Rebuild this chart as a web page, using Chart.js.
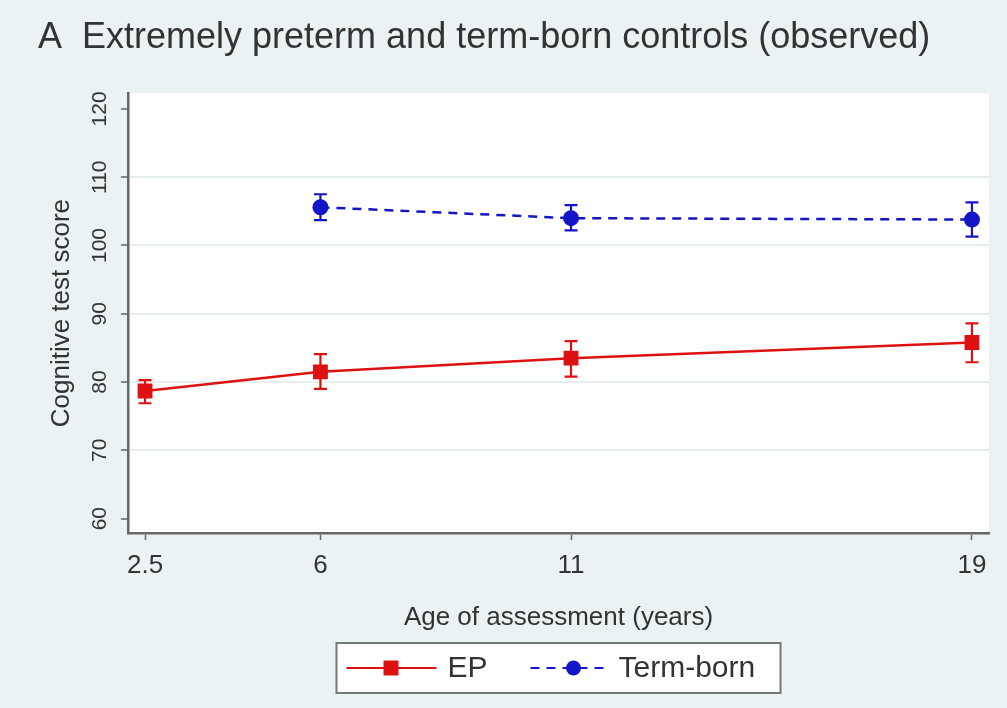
<!DOCTYPE html>
<html>
<head>
<meta charset="utf-8">
<script src="https://cdn.jsdelivr.net/npm/chart.js@4"></script>
<style>
  html, body { margin: 0; padding: 0; background: #eaf2f3; }
  #wrap { width: 1007px; height: 708px; }
</style>
</head>
<body>
<div id="wrap"><canvas id="myChart" width="1007" height="708"></canvas></div>
<script>
// values
var xTicks = [2.5, 6, 11, 19];
var yTicks = [60, 70, 80, 90, 100, 110, 120];

var epAges = [2.5, 6, 11, 19];
var epMean = [78.7, 81.5, 83.5, 85.8];
var epLow = [76.9, 79.0, 80.8, 82.9];
var epHigh = [80.3, 84.1, 86.0, 88.6];

var termAges = [6, 11, 19];
var termMean = [105.6, 104.0, 103.8];
var termLow = [103.7, 102.2, 101.3];
var termHigh = [107.5, 105.9, 106.3];

var RED = '#dd1111';
var BLUE = '#1515c8';
var FONT = "'Liberation Sans', Arial, sans-serif";
var TXT = '#333333';

function points(xs, ys) {
  return xs.map(function (x, i) { return { x: x, y: ys[i] }; });
}

// background + white plot region
var bgPlugin = {
  id: 'bg',
  beforeDraw: function (chart) {
    var c = chart.ctx, a = chart.chartArea;
    c.save();
    c.fillStyle = '#eaf2f3';
    c.fillRect(0, 0, chart.width, chart.height);
    c.fillStyle = '#ffffff';
    c.fillRect(a.left, a.top, a.right - a.left, a.bottom - a.top);
    c.restore();
  }
};

// error bars with caps, drawn under the markers
var errPlugin = {
  id: 'errbars',
  beforeDatasetsDraw: function (chart) {
    var c = chart.ctx;
    var xs = chart.scales.x, ys = chart.scales.y;
    chart.data.datasets.forEach(function (ds) {
      c.save();
      c.strokeStyle = ds.borderColor;
      c.lineWidth = 2.2;
      ds.data.forEach(function (p, i) {
        var px = xs.getPixelForValue(p.x);
        var y1 = ys.getPixelForValue(ds.errLow[i]);
        var y2 = ys.getPixelForValue(ds.errHigh[i]);
        c.beginPath();
        c.moveTo(px, y1); c.lineTo(px, y2);
        c.moveTo(px - 6.5, y1); c.lineTo(px + 6.5, y1);
        c.moveTo(px - 6.5, y2); c.lineTo(px + 6.5, y2);
        c.stroke();
      });
      c.restore();
    });
  }
};

// rotated y tick labels + boxed legend
var decoPlugin = {
  id: 'deco',
  afterDraw: function (chart) {
    var c = chart.ctx, ys = chart.scales.y, a = chart.chartArea;
    c.save();
    c.fillStyle = TXT;
    c.font = '21px ' + FONT;
    c.textAlign = 'center';
    c.textBaseline = 'middle';
    ys.ticks.forEach(function (t) {
      var py = ys.getPixelForValue(t.value);
      c.save();
      c.translate(a.left - 28, py);
      c.rotate(-Math.PI / 2);
      c.fillText(String(t.value), 0, 0);
      c.restore();
    });
    c.restore();

    // legend
    var cx = (a.left + a.right) / 2;
    var bx = cx - 222, by = a.bottom + 110, bw = 444, bh = 50;
    c.save();
    c.fillStyle = '#ffffff';
    c.fillRect(bx, by, bw, bh);
    c.strokeStyle = '#777777';
    c.lineWidth = 2;
    c.strokeRect(bx, by, bw, bh);
    var my = by + bh / 2;
    var ds = chart.data.datasets;
    // EP
    c.strokeStyle = ds[0].borderColor;
    c.lineWidth = 2;
    c.beginPath(); c.moveTo(bx + 10, my); c.lineTo(bx + 100, my); c.stroke();
    c.fillStyle = ds[0].borderColor;
    c.fillRect(bx + 47, my - 7.5, 15, 15);
    c.fillStyle = TXT;
    c.font = '30px ' + FONT;
    c.textAlign = 'left';
    c.textBaseline = 'middle';
    c.fillText(ds[0].label, bx + 111, my + 1);
    // Term-born
    c.strokeStyle = ds[1].borderColor;
    c.setLineDash([9, 7]);
    c.beginPath(); c.moveTo(bx + 194, my); c.lineTo(bx + 272, my); c.stroke();
    c.setLineDash([]);
    c.fillStyle = ds[1].borderColor;
    c.beginPath(); c.arc(bx + 237, my, 7.5, 0, Math.PI * 2); c.fill();
    c.fillStyle = TXT;
    c.fillText(ds[1].label, bx + 282, my + 1);
    c.restore();
  }
};

var ctx = document.getElementById('myChart').getContext('2d');
var myChart = new Chart(ctx, {
  type: 'line',
  data: {
    datasets: [{
      label: 'EP',
      data: points(epAges, epMean),
      errLow: epLow,
      errHigh: epHigh,
      borderColor: RED,
      backgroundColor: RED,
      borderWidth: 2.5,
      pointStyle: 'rect',
      pointRadius: 10.5,
      pointBorderWidth: 0,
      tension: 0
    }, {
      label: 'Term-born',
      data: points(termAges, termMean),
      errLow: termLow,
      errHigh: termHigh,
      borderColor: BLUE,
      backgroundColor: BLUE,
      borderWidth: 2.5,
      borderDash: [9, 7],
      pointStyle: 'circle',
      pointRadius: 8,
      pointBorderWidth: 0,
      tension: 0
    }]
  },
  options: {
    responsive: false,
    animation: false,
    layout: { padding: { left: 38, right: 18, top: 0, bottom: 0 } },
    plugins: {
      legend: { display: false },
      tooltip: { enabled: false },
      title: {
        display: true,
        text: 'A  Extremely preterm and term-born controls (observed)',
        align: 'start',
        color: TXT,
        font: { family: FONT, size: 36, weight: 'normal' },
        padding: { top: 16, bottom: 34 }
      }
    },
    scales: {
      x: {
        type: 'linear',
        min: 2.16,
        max: 19.34,
        afterBuildTicks: function (s) { s.ticks = xTicks.map(function (v) { return { value: v }; }); },
        afterFit: function (s) { s.height = 175; },
        grid: { display: true, drawOnChartArea: false, drawTicks: true, tickLength: 7, tickColor: '#666666', tickWidth: 1.5 },
        border: { display: true, color: '#666666', width: 2.5 },
        ticks: {
          color: TXT,
          font: { family: FONT, size: 26 },
          padding: 10,
          maxRotation: 0,
          callback: function (v) { return String(v); }
        },
        title: {
          display: true,
          text: 'Age of assessment (years)',
          color: TXT,
          font: { family: FONT, size: 26 },
          padding: { top: 0, bottom: 75 }
        }
      },
      y: {
        min: 57.9,
        max: 122.3,
        afterBuildTicks: function (s) { s.ticks = yTicks.map(function (v) { return { value: v }; }); },
        afterFit: function (s) { s.width = 90; },
        grid: {
          color: function (c) {
            var v = c.tick && c.tick.value;
            return (v === 60 || v === 120) ? 'rgba(0,0,0,0)' : '#e6eef0';
          },
          lineWidth: 2,
          drawTicks: true,
          tickLength: 7,
          tickColor: '#666666',
          tickWidth: 1.5
        },
        border: { display: true, color: '#666666', width: 2.5 },
        ticks: { display: false },
        title: {
          display: true,
          text: 'Cognitive test score',
          color: TXT,
          font: { family: FONT, size: 26 },
          padding: { top: 8, bottom: 0 }
        }
      }
    }
  },
  plugins: [bgPlugin, errPlugin, decoPlugin]
});
</script>
</body>
</html>
